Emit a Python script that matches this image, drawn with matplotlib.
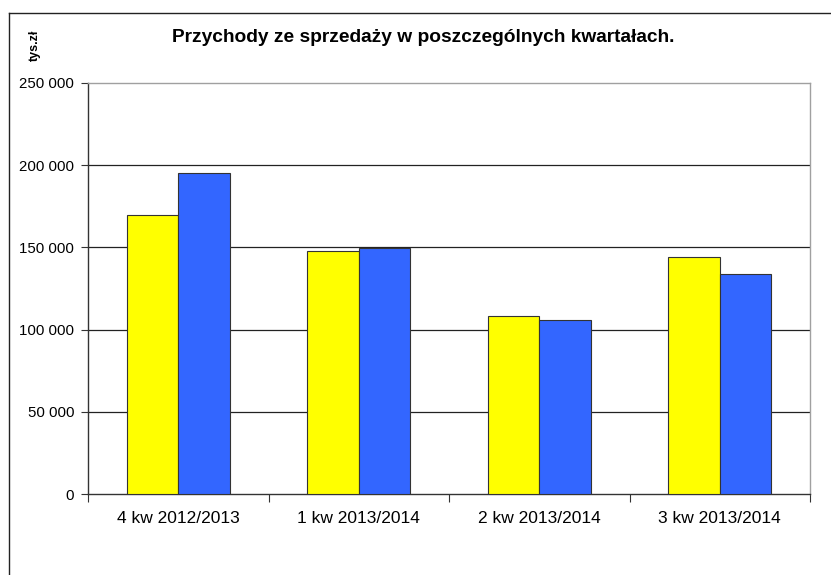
import matplotlib
matplotlib.use('Agg')
import matplotlib.pyplot as plt
import numpy as np
from matplotlib.lines import Line2D
from matplotlib.ticker import FuncFormatter

# ---------------------------------------------------------------------------
# Data
# ---------------------------------------------------------------------------
categories = ['4 kw 2012/2013', '1 kw 2013/2014', '2 kw 2013/2014', '3 kw 2013/2014']
series_yellow = [170000, 148000, 108500, 144000]
series_blue = [195000, 149500, 106000, 134000]
y_ticks = [0, 50000, 100000, 150000, 200000, 250000]

plt.rcParams['font.family'] = ['Liberation Sans', 'DejaVu Sans']

fig = plt.figure(figsize=(8.31, 5.75), dpi=100)
ax = fig.add_axes([88 / 831, 1 - 494 / 575, (810 - 88) / 831, (494 - 83) / 575])

x = np.arange(len(categories))
w = 0.285
ax.bar(x - w / 2, series_yellow, width=w, color='#FFFF00', edgecolor='#333333',
       linewidth=0.8, zorder=3)
ax.bar(x + w / 2, series_blue, width=w, color='#3366FF', edgecolor='#333333',
       linewidth=0.8, zorder=3)

ax.set_xlim(-0.5, len(categories) - 0.5)
ax.set_ylim(0, 250000)

ax.set_yticks(y_ticks)
ax.yaxis.set_major_formatter(FuncFormatter(lambda v, p: f"{int(v):,}".replace(',', ' ')))
ax.tick_params(axis='y', length=5, width=0.8, color='#333333', labelsize=10.8, pad=5)

ax.set_xticks(x)
ax.set_xticklabels(categories, fontsize=12.5)
ax.tick_params(axis='x', length=0, pad=12)
ax.set_xticks(np.arange(len(categories) + 1) - 0.5, minor=True)
ax.tick_params(axis='x', which='minor', length=6, width=0.8, color='#333333')

# gridlines
for v in y_ticks[1:-1]:
    ax.axhline(v, color='#222222', linewidth=0.9, zorder=1)

ax.spines['left'].set_color('#333333')
ax.spines['bottom'].set_color('#333333')
ax.spines['top'].set_color('#A0A0A0')
ax.spines['right'].set_color('#A0A0A0')
for s in ax.spines.values():
    s.set_linewidth(1.0)

# title and unit label
fig.text(423 / 831, 1 - 38 / 575, 'Przychody ze sprzedaży w poszczególnych kwartałach.',
         ha='center', va='center', fontsize=13.8, fontweight='bold')
fig.text(35 / 831, 1 - 45 / 575, 'tys.zł', rotation=90, ha='center', va='center',
         fontsize=9, fontweight='bold')

# outer frame (left and top)
fig.add_artist(Line2D([9 / 831, 9 / 831], [0, 1 - 13 / 575], transform=fig.transFigure,
                      color='#222222', linewidth=1.0))
fig.add_artist(Line2D([9 / 831, 1], [1 - 13 / 575, 1 - 13 / 575], transform=fig.transFigure,
                      color='#222222', linewidth=1.0))

fig.savefig('out.png', dpi=100)
plt.close(fig)
